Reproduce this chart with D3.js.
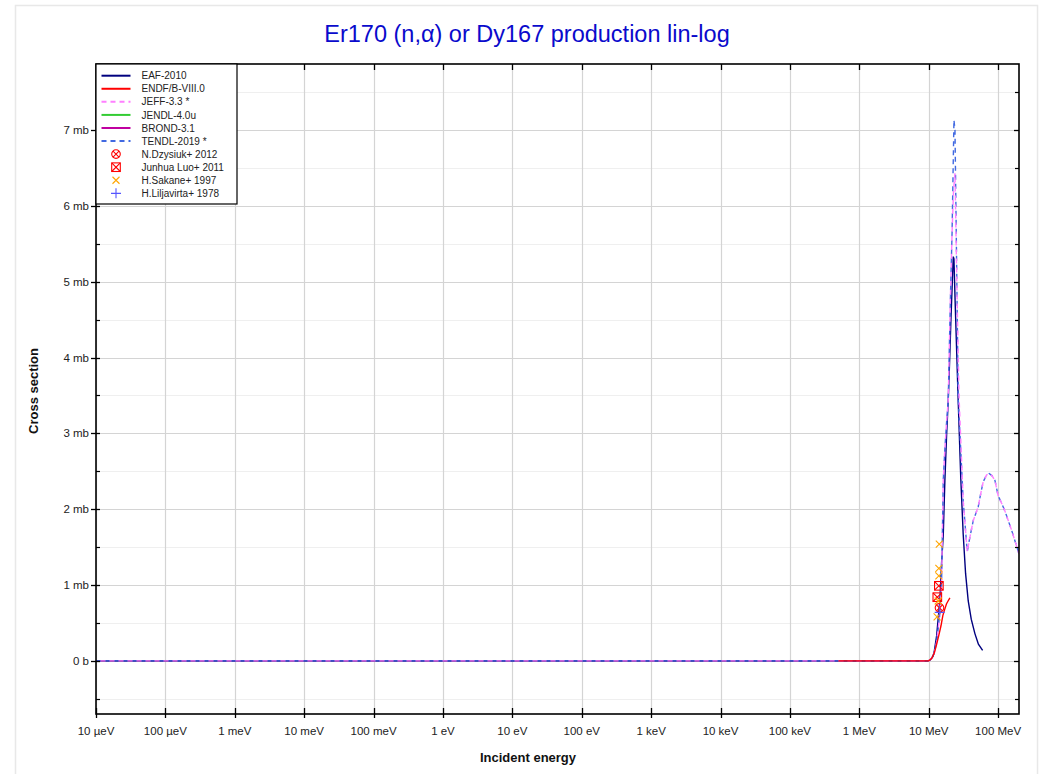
<!DOCTYPE html>
<html><head><meta charset="utf-8">
<script src="https://cdn.jsdelivr.net/npm/d3@7"></script>
<style>
body{margin:0;background:#fff;}
svg{display:block;font-family:"Liberation Sans",Arial,Helvetica,sans-serif;}
</style>
</head><body>
<svg id="chart" width="1045" height="774"></svg>
<script>
// ---------- data (energy in eV, cross section in mb) ----------
const titleText = "Er170 (n,\u03b1) or Dy167 production lin-log";
const xTicks = [1e-5,1e-4,1e-3,1e-2,1e-1,1,10,100,1e3,1e4,1e5,1e6,1e7,1e8];
const xTickLabels = ["10 \u00b5eV","100 \u00b5eV","1 meV","10 meV","100 meV","1 eV","10 eV","100 eV","1 keV","10 keV","100 keV","1 MeV","10 MeV","100 MeV"];
const yTicks = [0,1,2,3,4,5,6,7];
const yTickLabels = ["0 b","1 mb","2 mb","3 mb","4 mb","5 mb","6 mb","7 mb"];
const yMinor = [-0.5,0.5,1.5,2.5,3.5,4.5,5.5,6.5,7.5];

const eaf2010 = [[1e-5,0],[1e6,0],[9.5e6,0],[1.05e7,0.01],[1.15e7,0.06],[1.2e7,0.12],[1.3e7,0.33],[1.36e7,0.53],[1.45e7,0.8],[1.53e7,1.28],[1.62e7,1.66],[1.71e7,2.38],[1.81e7,2.98],[1.91e7,3.43],[2.0e7,3.95],[2.09e7,4.5],[2.2e7,5.05],[2.26e7,5.33],[2.31e7,5.3],[2.4e7,4.75],[2.66e7,3.43],[2.9e7,2.4],[3.14e7,1.67],[3.4e7,1.15],[3.71e7,0.79],[4.1e7,0.55],[4.63e7,0.36],[5.2e7,0.22],[5.98e7,0.14]];
const endfb80 = [[5e5,0],[5e6,0],[1.0e7,0.0],[1.1e7,0.03],[1.2e7,0.1],[1.3e7,0.22],[1.4e7,0.34],[1.5e7,0.46],[1.6e7,0.6],[1.7e7,0.68],[1.8e7,0.75],[1.9e7,0.79],[2.02e7,0.83]];
const jeff33 = [[1e-5,0],[5e6,0],[1.0e7,0.0],[1.1e7,0.03],[1.2e7,0.1],[1.3e7,0.25],[1.4e7,0.5],[1.5e7,0.85],[1.53e7,1.0],[1.62e7,2.38],[1.71e7,2.8],[1.81e7,3.15],[1.91e7,3.43],[2.05e7,4.75],[2.17e7,5.64],[2.28e7,6.2],[2.39e7,6.43],[2.55e7,4.9],[2.74e7,3.47],[3.14e7,2.11],[3.59e7,1.44],[3.9e7,1.62],[4.38e7,1.85],[5.16e7,2.03],[5.6e7,2.2],[6.09e7,2.36],[6.8e7,2.45],[7.44e7,2.47],[8.2e7,2.44],[9.0e7,2.38],[1.0e8,2.18],[1.12e8,2.08],[1.25e8,1.98],[1.4e8,1.85],[1.57e8,1.72],[1.78e8,1.56],[2.0e8,1.41]];
const jendl40u = [[1e-5,0],[1e6,0],[1.0e7,0.0]];
const brond31 = [[1e-5,0],[1e6,0],[1.0e7,0.0]];
const tendl2019 = [[1e-5,0],[5e6,0],[1.0e7,0.0],[1.1e7,0.03],[1.2e7,0.1],[1.3e7,0.25],[1.4e7,0.5],[1.5e7,0.85],[1.53e7,1.0],[1.62e7,2.38],[1.71e7,2.8],[1.81e7,3.15],[1.91e7,3.43],[2.05e7,4.75],[2.17e7,5.64],[2.31e7,7.13],[2.39e7,7.0],[2.52e7,5.3],[2.66e7,3.47],[3.14e7,2.11],[3.59e7,1.44],[3.9e7,1.62],[4.38e7,1.85],[5.16e7,2.03],[5.6e7,2.2],[6.09e7,2.36],[6.8e7,2.45],[7.44e7,2.47],[8.2e7,2.44],[9.0e7,2.38],[1.0e8,2.18],[1.12e8,2.08],[1.25e8,1.98],[1.4e8,1.85],[1.57e8,1.72],[1.78e8,1.56],[2.0e8,1.41]];

const dzysiuk2012 = [[1.43e7,0.70]];
const luo2011 = [[1.40e7,0.99],[1.33e7,0.84]];
const sakane1997 = [[1.42e7,1.54],[1.40e7,1.22],[1.40e7,1.12],[1.37e7,0.79],[1.32e7,0.58]];
const liljavirta1978 = [[1.44e7,0.64]];

const seriesNames = ["EAF-2010","ENDF/B-VIII.0","JEFF-3.3 *","JENDL-4.0u","BROND-3.1","TENDL-2019 *"];
const seriesColors = ["#00007f","#ff0000","#ff7fff","#33cc33","#c000a0","#4169e1"];
const seriesDash = [null,null,"5,4",null,null,"5,4"];
const seriesData = [eaf2010,endfb80,jeff33,jendl40u,brond31,tendl2019];
const drawOrder = [3,4,0,5,2,1];
const dashOffset = [0,0,4.5,0,0,0];

const expNames = ["N.Dzysiuk+ 2012","Junhua Luo+ 2011","H.Sakane+ 1997","H.Liljavirta+ 1978"];
const expColors = ["#ff0000","#ff0000","#ffa500","#5555ff"];
const expShapes = ["circlex","squarex","cross","plus"];
const expData = [dzysiuk2012,luo2011,sakane1997,liljavirta1978];

// ---------- layout ----------
const svg = d3.select("#chart");
const L=96, R=1019, T=64, B=714;
const x = d3.scaleLog().domain([1e-5,2e8]).range([L,R]);
const y = d3.scaleLinear().domain([-0.7,7.87]).range([B,T]);

// outer frame
svg.append("rect").attr("x",15.5).attr("y",5.5).attr("width",1022).attr("height",800)
  .attr("fill","none").attr("stroke","#e8e8e8").attr("stroke-width",1.5);

// title
svg.append("text").attr("x",527).attr("y",42).attr("text-anchor","middle")
  .attr("font-size",23.5).attr("fill","#0a0acc").text(titleText);

// grid
const g = svg.append("g");
g.selectAll(".ym").data(yMinor).enter().append("line")
  .attr("x1",L).attr("x2",R).attr("y1",d=>Math.round(y(d))+0.5).attr("y2",d=>Math.round(y(d))+0.5)
  .attr("stroke","#efefef").attr("stroke-width",1);
g.selectAll(".yM").data(yTicks).enter().append("line")
  .attr("x1",L).attr("x2",R).attr("y1",d=>Math.round(y(d))+0.5).attr("y2",d=>Math.round(y(d))+0.5)
  .attr("stroke","#d4d4d4").attr("stroke-width",1.2);
g.selectAll(".xM").data(xTicks).enter().append("line")
  .attr("y1",T).attr("y2",B).attr("x1",d=>Math.round(x(d))+0.5).attr("x2",d=>Math.round(x(d))+0.5)
  .attr("stroke","#d4d4d4").attr("stroke-width",1.2);

// clip
svg.append("clipPath").attr("id","clip").append("rect").attr("x",L).attr("y",T).attr("width",R-L).attr("height",B-T);
const plot = svg.append("g").attr("clip-path","url(#clip)");

const line = d3.line().x(d=>x(d[0])).y(d=>y(d[1]));
drawOrder.forEach(i=>{
  plot.append("path").datum(seriesData[i]).attr("d",line)
    .attr("fill","none").attr("stroke",seriesColors[i]).attr("stroke-width",1.4)
    .attr("stroke-dasharray",seriesDash[i]).attr("stroke-dashoffset",dashOffset[i]);
});

function marker(sel, shape, color, cx, cy){
  const gg = sel.append("g").attr("transform",`translate(${cx},${cy})`)
    .attr("fill","none").attr("stroke",color).attr("stroke-width",1.1);
  if(shape==="circlex"){
    gg.append("circle").attr("r",4.3);
    gg.append("path").attr("d","M-3,-3L3,3M-3,3L3,-3");
  } else if(shape==="squarex"){
    gg.append("rect").attr("x",-4.3).attr("y",-4.3).attr("width",8.6).attr("height",8.6);
    gg.append("path").attr("d","M-4.3,-4.3L4.3,4.3M-4.3,4.3L4.3,-4.3");
  } else if(shape==="cross"){
    gg.append("path").attr("d","M-3.5,-3.5L3.5,3.5M-3.5,3.5L3.5,-3.5");
  } else {
    gg.append("path").attr("d","M-5,0L5,0M0,-5L0,5");
  }
}
expData.forEach((arr,i)=>{
  arr.forEach(p=>marker(plot, expShapes[i], expColors[i], x(p[0]), y(p[1])));
});

// axes frame
const ax = svg.append("g").attr("stroke","#000").attr("fill","none");
ax.append("rect").attr("x",L).attr("y",T).attr("width",R-L).attr("height",B-T).attr("stroke-width",1.6);
xTicks.forEach(t=>{
  const px = Math.round(x(t))+0.5;
  ax.append("line").attr("x1",px).attr("x2",px).attr("y1",B-6).attr("y2",B+4).attr("stroke-width",1.3);
  ax.append("line").attr("x1",px).attr("x2",px).attr("y1",T).attr("y2",T+6).attr("stroke-width",1.3);
});
yTicks.forEach(t=>{
  const py = Math.round(y(t))+0.5;
  ax.append("line").attr("x1",L-5).attr("x2",L+4).attr("y1",py).attr("y2",py).attr("stroke-width",1.3);
  ax.append("line").attr("x1",R-5).attr("x2",R).attr("y1",py).attr("y2",py).attr("stroke-width",1.3);
});
yMinor.forEach(t=>{
  const py = Math.round(y(t))+0.5;
  ax.append("line").attr("x1",L).attr("x2",L+4).attr("y1",py).attr("y2",py).attr("stroke-width",1.2);
  ax.append("line").attr("x1",R-4).attr("x2",R).attr("y1",py).attr("y2",py).attr("stroke-width",1.2);
});

// tick labels
svg.append("g").selectAll("text").data(xTicks).enter().append("text")
  .attr("x",d=>x(d)).attr("y",735).attr("text-anchor","middle").attr("font-size",11.5).attr("fill","#222")
  .text((d,i)=>xTickLabels[i]);
svg.append("g").selectAll("text").data(yTicks).enter().append("text")
  .attr("x",89).attr("y",d=>y(d)+4).attr("text-anchor","end").attr("font-size",11.5).attr("fill","#222")
  .text((d,i)=>yTickLabels[i]);

// axis titles
svg.append("text").attr("x",528).attr("y",762).attr("text-anchor","middle")
  .attr("font-size",13).attr("font-weight","bold").attr("fill","#111").text("Incident energy");
svg.append("text").attr("transform","translate(38,391) rotate(-90)").attr("text-anchor","middle")
  .attr("font-size",13).attr("font-weight","bold").attr("fill","#111").text("Cross section");

// legend
const lg = svg.append("g");
lg.append("rect").attr("x",L).attr("y",T).attr("width",141).attr("height",140)
  .attr("fill","#fff").attr("stroke","#000").attr("stroke-width",1.2);
const rowY = i => 75.7 + i*13.07;
seriesNames.forEach((n,i)=>{
  lg.append("line").attr("x1",101.5).attr("x2",130.5).attr("y1",rowY(i)).attr("y2",rowY(i))
    .attr("stroke",seriesColors[i]).attr("stroke-width",2).attr("stroke-dasharray",seriesDash[i]);
  lg.append("text").attr("x",141.5).attr("y",rowY(i)+3.6).attr("font-size",10).attr("fill","#222").text(n);
});
expNames.forEach((n,j)=>{
  const i = j + seriesNames.length;
  marker(lg, expShapes[j], expColors[j], 116, rowY(i));
  lg.append("text").attr("x",141.5).attr("y",rowY(i)+3.6).attr("font-size",10).attr("fill","#222").text(n);
});
</script>
</body></html>
